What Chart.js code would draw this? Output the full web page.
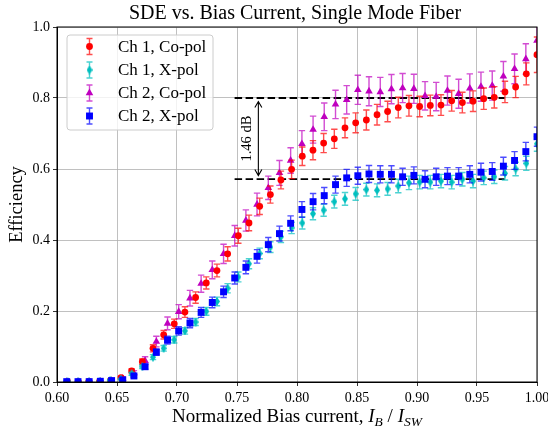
<!DOCTYPE html>
<html lang="en">
<head>
<meta charset="UTF-8" />
<title>SDE vs. Bias Current, Single Mode Fiber</title>
<style>
  body { margin: 0; background: #fff; }
  #sde { display: block; }
</style>
</head>
<body>
<canvas id="sde" width="548" height="432"></canvas>
<script src="https://cdn.jsdelivr.net/npm/chart.js"></script>
<script>
// normalized bias current for each channel (different I_SW, so different steps)
const ch1Bias = [0.6088, 0.6177, 0.6266, 0.6355, 0.6444, 0.6533, 0.6622, 0.6711, 0.6800, 0.6889,
                 0.6977, 0.7066, 0.7155, 0.7244, 0.7333, 0.7422, 0.7511, 0.7600, 0.7689, 0.7778,
                 0.7866, 0.7955, 0.8044, 0.8133, 0.8222, 0.8311, 0.8400, 0.8489, 0.8578, 0.8667,
                 0.8755, 0.8844, 0.8933, 0.9022, 0.9111, 0.9200, 0.9289, 0.9378, 0.9467, 0.9556,
                 0.9644, 0.9733, 0.9822, 0.9911, 1.0000];
const ch2Bias = [0.6081, 0.6175, 0.6268, 0.6361, 0.6455, 0.6548, 0.6641, 0.6734, 0.6828, 0.6921,
                 0.7014, 0.7108, 0.7201, 0.7294, 0.7388, 0.7481, 0.7574, 0.7667, 0.7761, 0.7854,
                 0.7947, 0.8041, 0.8134, 0.8227, 0.8321, 0.8414, 0.8507, 0.8600, 0.8694, 0.8787,
                 0.8880, 0.8974, 0.9067, 0.9160, 0.9254, 0.9347, 0.9440, 0.9533, 0.9627, 0.9720,
                 0.9813, 0.9907, 1.0000];

// efficiencies
const ch1Co = [0.001, 0.001, 0.002, 0.002, 0.004, 0.012, 0.031, 0.057, 0.095, 0.133,
               0.164, 0.197, 0.238, 0.279, 0.314, 0.361, 0.412, 0.448, 0.495, 0.528,
               0.569, 0.599, 0.636, 0.653, 0.673, 0.685, 0.716, 0.730, 0.738, 0.753,
               0.762, 0.773, 0.778, 0.776, 0.779, 0.780, 0.792, 0.787, 0.791, 0.798,
               0.802, 0.817, 0.831, 0.868, 0.922];
const ch1X = [0.001, 0.001, 0.001, 0.002, 0.005, 0.008, 0.023, 0.043, 0.070, 0.095,
              0.119, 0.144, 0.169, 0.199, 0.227, 0.264, 0.296, 0.333, 0.362, 0.380,
              0.409, 0.434, 0.448, 0.474, 0.484, 0.508, 0.516, 0.530, 0.542, 0.540,
              0.544, 0.552, 0.561, 0.563, 0.563, 0.566, 0.563, 0.571, 0.566, 0.575,
              0.578, 0.588, 0.600, 0.616, 0.671];
const ch2Co = [0.001, 0.001, 0.001, 0.002, 0.004, 0.010, 0.025, 0.060, 0.114, 0.165,
               0.198, 0.236, 0.277, 0.316, 0.361, 0.412, 0.455, 0.500, 0.547, 0.589,
               0.624, 0.671, 0.711, 0.747, 0.782, 0.795, 0.823, 0.819, 0.817, 0.825,
               0.828, 0.826, 0.806, 0.804, 0.821, 0.812, 0.827, 0.832, 0.835, 0.861,
               0.882, 0.910, 0.962];
const ch2X = [0.001, 0.001, 0.001, 0.002, 0.004, 0.006, 0.017, 0.043, 0.084, 0.118,
              0.144, 0.166, 0.196, 0.224, 0.254, 0.293, 0.323, 0.354, 0.387, 0.418,
              0.447, 0.486, 0.508, 0.525, 0.556, 0.575, 0.581, 0.586, 0.585, 0.585,
              0.578, 0.582, 0.571, 0.578, 0.580, 0.580, 0.585, 0.591, 0.593, 0.608,
              0.624, 0.649, 0.691];

// error bar half-lengths
const ch1CoErr = [0.001, 0.001, 0.0015, 0.0015, 0.002, 0.004, 0.006, 0.008, 0.010, 0.012,
                  0.013, 0.015, 0.016, 0.017, 0.018, 0.020, 0.021, 0.022, 0.023, 0.024,
                  0.025, 0.026, 0.026, 0.027, 0.027, 0.027, 0.028, 0.028, 0.028, 0.029,
                  0.029, 0.029, 0.029, 0.029, 0.029, 0.029, 0.029, 0.029, 0.029, 0.030,
                  0.030, 0.030, 0.030, 0.031, 0.050];
const ch1XErr = [0.001, 0.001, 0.001, 0.001, 0.002, 0.002, 0.004, 0.005, 0.007, 0.008,
                 0.009, 0.009, 0.010, 0.011, 0.012, 0.013, 0.014, 0.014, 0.015, 0.015,
                 0.016, 0.016, 0.017, 0.017, 0.017, 0.018, 0.018, 0.018, 0.018, 0.018,
                 0.018, 0.019, 0.019, 0.019, 0.019, 0.019, 0.019, 0.019, 0.019, 0.019,
                 0.019, 0.019, 0.019, 0.020, 0.021];
const ch2CoErr = [0.001, 0.001, 0.001, 0.002, 0.003, 0.005, 0.007, 0.011, 0.015, 0.018,
                  0.020, 0.022, 0.024, 0.025, 0.027, 0.029, 0.030, 0.032, 0.033, 0.035,
                  0.036, 0.037, 0.038, 0.039, 0.040, 0.040, 0.041, 0.041, 0.041, 0.041,
                  0.041, 0.041, 0.040, 0.040, 0.041, 0.041, 0.041, 0.041, 0.041, 0.042,
                  0.042, 0.043, 0.044];
const ch2XErr = [0.001, 0.001, 0.001, 0.0015, 0.002, 0.0025, 0.004, 0.007, 0.009, 0.011,
                 0.012, 0.013, 0.014, 0.015, 0.016, 0.017, 0.018, 0.019, 0.020, 0.021,
                 0.021, 0.022, 0.023, 0.023, 0.024, 0.024, 0.024, 0.024, 0.024, 0.024,
                 0.024, 0.024, 0.024, 0.024, 0.024, 0.024, 0.024, 0.025, 0.025, 0.025,
                 0.025, 0.026, 0.027];

const seriesLabels = ['Ch 1, Co-pol', 'Ch 1, X-pol', 'Ch 2, Co-pol', 'Ch 2, X-pol'];
const xTicks = [0.60, 0.65, 0.70, 0.75, 0.80, 0.85, 0.90, 0.95, 1.00];
const yTicks = [0.0, 0.2, 0.4, 0.6, 0.8, 1.0];

// 1.46 dB annotation
const levelHigh = 0.80;
const levelLow = 0.5716;
const levelFrom = 0.748;
const levelTo = 0.973;
const arrowAt = 0.7678;

const serif = "'Liberation Serif', 'Times New Roman', serif";

function pts(xs, ys) {
    return xs.map((x, i) => ({ x: x, y: ys[i] }));
}

// thin diamond marker like matplotlib 'd'
function thinDiamond(color, w, h) {
    const c = document.createElement('canvas');
    c.width = w; c.height = h;
    const g = c.getContext('2d');
    g.fillStyle = color;
    g.beginPath();
    g.moveTo(w / 2, 0);
    g.lineTo(w, h / 2);
    g.lineTo(w / 2, h);
    g.lineTo(0, h / 2);
    g.closePath();
    g.fill();
    return c;
}

const cyanDiamond = thinDiamond('#00bfbf', 6, 9);

const marks = [
    { color: '#ff0000', style: 'circle', radius: 3.4 },
    { color: '#00bfbf', style: cyanDiamond, radius: 4 },
    { color: '#bf00bf', style: 'triangle', radius: 4.4 },
    { color: '#0000ff', style: 'rect', radius: 4.9 }
];

function makeSet(i, xs, ys, errs, order) {
    return {
        label: seriesLabels[i],
        data: pts(xs, ys),
        errs: errs,
        order: order,
        showLine: false,
        pointStyle: marks[i].style,
        pointRadius: marks[i].radius,
        pointHoverRadius: marks[i].radius,
        pointBackgroundColor: marks[i].color,
        pointBorderColor: marks[i].color,
        pointBorderWidth: 0,
        borderColor: marks[i].color,
        backgroundColor: marks[i].color
    };
}

// error bars drawn just below each series' markers
const errorBars = {
    id: 'errorBars',
    beforeDatasetDraw(chart, args) {
        const ds = chart.data.datasets[args.index];
        const ys = chart.scales.y;
        const area = chart.chartArea;
        const ctx = chart.ctx;
        ctx.save();
        ctx.beginPath();
        ctx.rect(area.left, area.top, area.right - area.left, area.bottom - area.top);
        ctx.clip();
        ctx.strokeStyle = ds.borderColor;
        ctx.globalAlpha = 0.7;
        ctx.lineWidth = 1.4;
        args.meta.data.forEach((pt, i) => {
            const v = ds.data[i].y, e = ds.errs[i];
            const top = ys.getPixelForValue(v + e);
            const bot = ys.getPixelForValue(v - e);
            ctx.beginPath();
            ctx.moveTo(pt.x, top); ctx.lineTo(pt.x, bot);
            ctx.moveTo(pt.x - 3.2, top); ctx.lineTo(pt.x + 3.2, top);
            ctx.moveTo(pt.x - 3.2, bot); ctx.lineTo(pt.x + 3.2, bot);
            ctx.stroke();
        });
        ctx.restore();
    }
};

// dashed levels + double arrow
const levels = {
    id: 'levels',
    beforeDatasetsDraw(chart) {
        const ctx = chart.ctx, xs = chart.scales.x, ys = chart.scales.y;
        ctx.save();
        ctx.strokeStyle = '#000';
        ctx.lineWidth = 1.8;
        ctx.setLineDash([7.5, 3.5]);
        [levelHigh, levelLow].forEach(v => {
            const y = ys.getPixelForValue(v);
            ctx.beginPath();
            ctx.moveTo(xs.getPixelForValue(levelFrom), y);
            ctx.lineTo(xs.getPixelForValue(levelTo), y);
            ctx.stroke();
        });
        ctx.restore();

        const ax = xs.getPixelForValue(arrowAt);
        const y1 = ys.getPixelForValue(levelHigh) + 3.5;
        const y2 = ys.getPixelForValue(levelLow) - 3.5;
        ctx.save();
        ctx.strokeStyle = '#000';
        ctx.lineWidth = 1.1;
        ctx.beginPath();
        ctx.moveTo(ax, y1); ctx.lineTo(ax, y2);
        ctx.moveTo(ax - 3.5, y1 + 6); ctx.lineTo(ax, y1); ctx.lineTo(ax + 3.5, y1 + 6);
        ctx.moveTo(ax - 3.5, y2 - 6); ctx.lineTo(ax, y2); ctx.lineTo(ax + 3.5, y2 - 6);
        ctx.stroke();

        ctx.translate(ax - 11, (y1 + y2) / 2);
        ctx.rotate(-Math.PI / 2);
        ctx.fillStyle = '#000';
        ctx.font = '14.5px ' + serif;
        ctx.textAlign = 'center';
        ctx.textBaseline = 'middle';
        ctx.fillText('1.46 dB', 0, 0);
        ctx.restore();
    }
};

// frame, titles and legend
const decor = {
    id: 'decor',
    afterDraw(chart) {
        const ctx = chart.ctx, a = chart.chartArea;
        ctx.save();
        ctx.strokeStyle = '#000';
        ctx.lineWidth = 1;
        ctx.strokeRect(a.left, a.top, a.right - a.left, a.bottom - a.top);

        ctx.fillStyle = '#000';
        ctx.textBaseline = 'alphabetic';
        ctx.textAlign = 'center';
        ctx.font = '20px ' + serif;
        ctx.fillText('SDE vs. Bias Current, Single Mode Fiber', 295, 19);

        // x axis label with subscripts
        const parts = [
            { t: 'Normalized Bias current, ', f: '19px ' + serif, dy: 0 },
            { t: 'I', f: 'italic 19px ' + serif, dy: 0 },
            { t: 'B', f: 'italic 13.5px ' + serif, dy: 3.5 },
            { t: ' / ', f: '19px ' + serif, dy: 0 },
            { t: 'I', f: 'italic 19px ' + serif, dy: 0 },
            { t: 'SW', f: 'italic 13.5px ' + serif, dy: 3.5 }
        ];
        let total = 0;
        parts.forEach(p => { ctx.font = p.f; p.w = ctx.measureText(p.t).width; total += p.w; });
        let x = (a.left + a.right) / 2 - total / 2;
        ctx.textAlign = 'left';
        parts.forEach(p => { ctx.font = p.f; ctx.fillText(p.t, x, 422 + p.dy); x += p.w; });

        ctx.save();
        ctx.translate(17, (a.top + a.bottom) / 2);
        ctx.rotate(-Math.PI / 2);
        ctx.textAlign = 'center';
        ctx.textBaseline = 'middle';
        ctx.font = '18.5px ' + serif;
        ctx.fillText('Efficiency', 0, 0);
        ctx.restore();

        // legend
        const bx = 67, by = 35, bw = 146, bh = 95;
        ctx.beginPath();
        ctx.roundRect(bx, by, bw, bh, 3);
        ctx.fillStyle = 'rgba(255,255,255,0.8)';
        ctx.fill();
        ctx.strokeStyle = '#cccccc';
        ctx.lineWidth = 1;
        ctx.stroke();
        const rows = [46.5, 70, 93, 116];
        rows.forEach((ry, i) => {
            const mx = 89.5;
            ctx.save();
            ctx.strokeStyle = marks[i].color;
            ctx.globalAlpha = 0.7;
            ctx.lineWidth = 1.4;
            ctx.beginPath();
            ctx.moveTo(mx, ry - 8); ctx.lineTo(mx, ry + 8);
            ctx.moveTo(mx - 3, ry - 8); ctx.lineTo(mx + 3, ry - 8);
            ctx.moveTo(mx - 3, ry + 8); ctx.lineTo(mx + 3, ry + 8);
            ctx.stroke();
            ctx.restore();
            ctx.fillStyle = marks[i].color;
            Chart.helpers.drawPoint(ctx, {
                pointStyle: marks[i].style, radius: marks[i].radius, rotation: 0, borderWidth: 0
            }, mx, ry);
            ctx.fillStyle = '#000';
            ctx.font = '17px ' + serif;
            ctx.textAlign = 'left';
            ctx.textBaseline = 'middle';
            ctx.fillText(seriesLabels[i], 118, ry + 1);
        });
        ctx.restore();
    }
};

new Chart(document.getElementById('sde'), {
    type: 'scatter',
    data: {
        datasets: [
            makeSet(0, ch1Bias, ch1Co, ch1CoErr, 2),
            makeSet(1, ch1Bias, ch1X, ch1XErr, 1),
            makeSet(2, ch2Bias, ch2Co, ch2CoErr, 3),
            makeSet(3, ch2Bias, ch2X, ch2XErr, 0)
        ]
    },
    options: {
        responsive: false,
        animation: false,
        devicePixelRatio: 1,
        events: [],
        layout: { padding: { left: 0, right: 11, top: 27, bottom: 0 } },
        plugins: {
            legend: { display: false },
            tooltip: { enabled: false },
            title: { display: false }
        },
        scales: {
            x: {
                type: 'linear',
                min: 0.6,
                max: 1.0,
                afterBuildTicks: s => { s.ticks = xTicks.map(v => ({ value: v })); },
                afterFit: s => { s.height = 50; s.paddingLeft = 0; s.paddingRight = 0; },
                ticks: {
                    color: '#000',
                    padding: 4,
                    maxRotation: 0,
                    font: { family: serif, size: 14 },
                    callback: v => v.toFixed(2)
                },
                grid: { color: '#b0b0b0', lineWidth: 0.8, tickColor: '#000', tickLength: 4 },
                border: { color: '#000', width: 1 }
            },
            y: {
                type: 'linear',
                min: 0,
                max: 1.0,
                afterBuildTicks: s => { s.ticks = yTicks.map(v => ({ value: v })); },
                afterFit: s => { s.width = 57; s.paddingTop = 0; s.paddingBottom = 0; },
                ticks: {
                    color: '#000',
                    padding: 3,
                    font: { family: serif, size: 14 },
                    callback: v => v.toFixed(1)
                },
                grid: { color: '#b0b0b0', lineWidth: 0.8, tickColor: '#000', tickLength: 4 },
                border: { color: '#000', width: 1 }
            }
        }
    },
    plugins: [errorBars, levels, decor]
});
</script>
</body>
</html>
